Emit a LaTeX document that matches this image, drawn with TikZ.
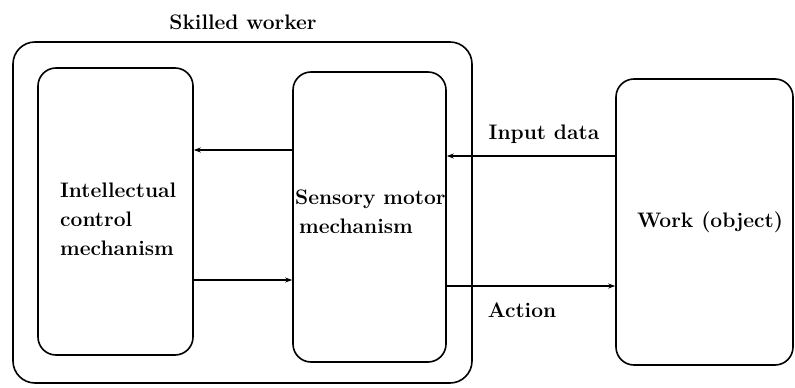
\documentclass[tikz,border=0pt]{standalone}
\usetikzlibrary{arrows.meta}
\begin{document}
\begin{tikzpicture}[x=1pt,y=-1pt,
  box/.style={draw,line width=1.6pt,rounded corners=18pt},
  lbl/.style={font=\fontsize{21}{29}\selectfont\bfseries,inner sep=0pt},
  flow/.style={line width=1.4pt,-{Stealth[length=7pt,width=5pt]}}]
\useasboundingbox (0,0) rectangle (795,388);
% outer boundary of the worker
\draw[box,rounded corners=22pt] (13,42) rectangle (472,383);
% internal mechanisms and the work piece
\node[box,minimum width=155pt,minimum height=287pt,inner sep=0pt] (ic) at (115.5,211.5) {};
\node[box,minimum width=153pt,minimum height=290pt,inner sep=0pt] (sm) at (369.5,217) {};
\node[box,minimum width=177pt,minimum height=286pt,inner sep=0pt] (wk) at (704.5,222) {};
% labels
\node[lbl] (sw) at (243,22) {Skilled worker};
\node[lbl,align=left,anchor=west] (ict) at (60,219) {Intellectual\\control\\mechanism};
\node[lbl,align=left,anchor=west] (smt) at (295,212) {Sensory motor\\\hspace{4pt}mechanism};
\node[lbl] (wkt) at (710,222) {Work (object)};
% information and action flows
\draw[flow] (sm.west |- 0,150) -- (ic.east |- 0,150);
\draw[flow] (ic.east |- 0,280) -- (sm.west |- 0,280);
\draw[flow] (wk.west |- 0,156) -- node[lbl,above=12pt,xshift=13pt] (in) {Input data} (sm.east |- 0,156);
\draw[flow] (sm.east |- 0,286) -- node[lbl,below=16pt,xshift=-9pt] (ac) {Action} (wk.west |- 0,286);
\end{tikzpicture}
\end{document}
